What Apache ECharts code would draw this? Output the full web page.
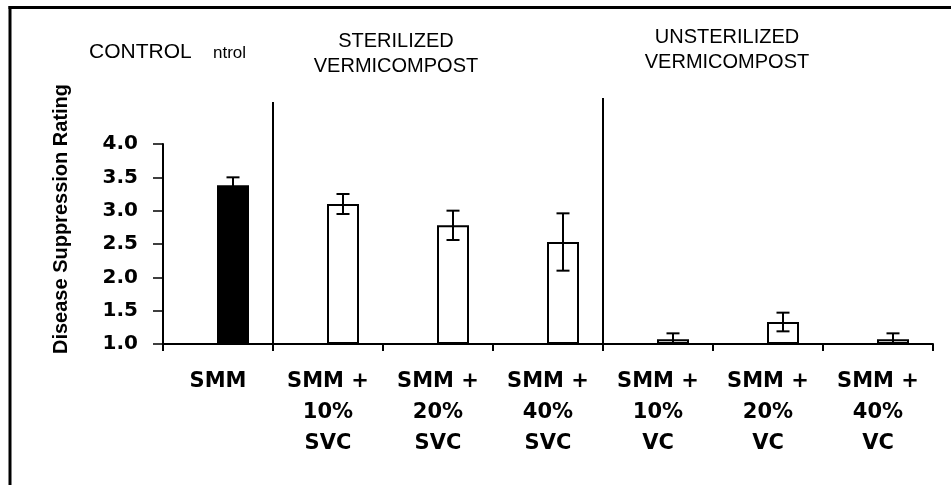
<!DOCTYPE html>
<html>
<head>
<meta charset="utf-8">
<script src="https://cdn.jsdelivr.net/npm/echarts@6/dist/echarts.min.js"></script>
<style>
  html, body { margin: 0; padding: 0; background: #ffffff; }
  #chart { width: 951px; height: 485px; }
</style>
</head>
<body>
<div id="chart"></div>
<script>
// ---- data ----
const categories = [
  'SMM',
  'SMM +\n10%\nSVC',
  'SMM +\n20%\nSVC',
  'SMM +\n40%\nSVC',
  'SMM +\n10%\nVC',
  'SMM +\n20%\nVC',
  'SMM +\n40%\nVC'
];
const means  = [3.38, 3.10, 2.78, 2.53, 1.07, 1.33, 1.07];
const errors = [0.12, 0.15, 0.22, 0.43, 0.09, 0.14, 0.09];
const barFills = ['#000000', '#ffffff', '#ffffff', '#ffffff', '#ffffff', '#ffffff', '#ffffff'];
const yMin = 1.0, yMax = 4.0, yStep = 0.5;
const yAxisTitle = 'Disease Suppression Rating';
const groupTitles = ['CONTROL', 'ntrol', 'STERILIZED\nVERMICOMPOST', 'UNSTERILIZED\nVERMICOMPOST'];
const groupSeparatorsAfter = [0, 3]; // separator after these category indices

// ---- layout ----
const BAR_W = 32;
const BAR_GAP_PX = -2;
const BAR_SHIFT = (BAR_W + BAR_GAP_PX) / 2;
const CAP_HALF = 6.5;

const chart = echarts.init(document.getElementById('chart'), null, { renderer: 'canvas' });

const option = {
  backgroundColor: '#ffffff',
  animation: false,
  grid: { left: 163, right: 18, top: 144, bottom: 141, containLabel: false },
  xAxis: {
    type: 'category',
    data: categories,
    boundaryGap: true,
    axisLine: { show: true, lineStyle: { color: '#000', width: 2 } },
    axisTick: { show: true, alignWithLabel: false, length: 7, lineStyle: { color: '#000', width: 2 } },
    axisLabel: {
      interval: 0,
      margin: 22,
      color: '#000',
      fontFamily: 'DejaVu Sans',
      fontWeight: 'bold',
      fontSize: 21,
      lineHeight: 31,
      align: 'center'
    },
    splitLine: { show: false }
  },
  yAxis: {
    type: 'value',
    min: yMin,
    max: yMax,
    interval: yStep,
    startValue: yMin,
    axisLine: { show: true, lineStyle: { color: '#000', width: 2 } },
    axisTick: { show: true, inside: false, length: 10, lineStyle: { color: '#000', width: 1.5 } },
    axisLabel: {
      margin: 25,
      color: '#000',
      fontFamily: 'DejaVu Sans',
      fontWeight: 'bold',
      fontSize: 20,
      formatter: v => v.toFixed(1)
    },
    splitLine: { show: false }
  },
  series: [
    {
      name: 'spacer',
      type: 'bar',
      barWidth: BAR_W,
      barGap: (BAR_GAP_PX / BAR_W * 100) + '%',
      data: categories.map(() => '-'),
      silent: true
    },
    {
      name: 'rating',
      type: 'bar',
      barWidth: BAR_W,
      barGap: (BAR_GAP_PX / BAR_W * 100) + '%',
      data: means.map((v, i) => ({
        value: v,
        itemStyle: { color: barFills[i], borderColor: '#000', borderWidth: 2 }
      })),
      z: 2
    },
    {
      name: 'error',
      type: 'custom',
      clip: true,
      z: 3,
      data: means.map((m, i) => [i, m, errors[i]]),
      renderItem: function (params, api) {
        const i = api.value(0);
        const m = api.value(1);
        const e = api.value(2);
        const cx = api.coord([i, m])[0] + BAR_SHIFT;
        const yTop = api.coord([i, m + e])[1];
        const yBot = api.coord([i, m - e])[1];
        const st = { stroke: '#000', lineWidth: 2, fill: 'none' };
        return {
          type: 'group',
          children: [
            { type: 'line', shape: { x1: cx, y1: yTop, x2: cx, y2: yBot }, style: st },
            { type: 'line', shape: { x1: cx - CAP_HALF, y1: yTop, x2: cx + CAP_HALF, y2: yTop }, style: st },
            { type: 'line', shape: { x1: cx - CAP_HALF, y1: yBot, x2: cx + CAP_HALF, y2: yBot }, style: st }
          ]
        };
      }
    }
  ]
};

chart.setOption(option);

// ---- decorations computed from the axes ----
const SEP_TOPS = [102, 98];
const yBase = chart.convertToPixel({ yAxisIndex: 0 }, yMin);
const sepLines = groupSeparatorsAfter.map((idx, k) => {
  const xa = chart.convertToPixel({ xAxisIndex: 0 }, idx);
  const xb = chart.convertToPixel({ xAxisIndex: 0 }, idx + 1);
  const x = (xa + xb) / 2;
  return {
    type: 'line',
    shape: { x1: x, y1: SEP_TOPS[k], x2: x, y2: yBase },
    style: { stroke: '#000', lineWidth: 2 },
    z: 5
  };
});

const headFont = 'Liberation Sans, Arial, sans-serif';
chart.setOption({
  graphic: [
    // outer frame (top & left edges visible)
    { type: 'line', shape: { x1: 8.5, y1: 7.5, x2: 951, y2: 7.5 }, style: { stroke: '#000', lineWidth: 3 } },
    { type: 'line', shape: { x1: 10, y1: 6, x2: 10, y2: 485 }, style: { stroke: '#000', lineWidth: 3 } },
    ...sepLines,
    {
      type: 'text', x: 89, y: 52,
      style: { text: groupTitles[0], font: '21px ' + headFont, fill: '#000', align: 'left', verticalAlign: 'middle' }
    },
    {
      type: 'text', x: 213, y: 53.5,
      style: { text: groupTitles[1], font: '17px ' + headFont, fill: '#000', align: 'left', verticalAlign: 'middle' }
    },
    {
      type: 'text', x: 396, y: 53.7,
      style: { text: groupTitles[2], font: '20px ' + headFont, lineHeight: 25, fill: '#000', align: 'center', verticalAlign: 'middle' }
    },
    {
      type: 'text', x: 727, y: 49.8,
      style: { text: groupTitles[3], font: '20px ' + headFont, lineHeight: 25, fill: '#000', align: 'center', verticalAlign: 'middle' }
    },
    {
      type: 'text', x: 61.5, y: 219, rotation: Math.PI / 2,
      style: { text: yAxisTitle, font: 'bold 20px ' + headFont, fill: '#000', align: 'center', verticalAlign: 'middle' }
    }
  ]
});
</script>
</body>
</html>
